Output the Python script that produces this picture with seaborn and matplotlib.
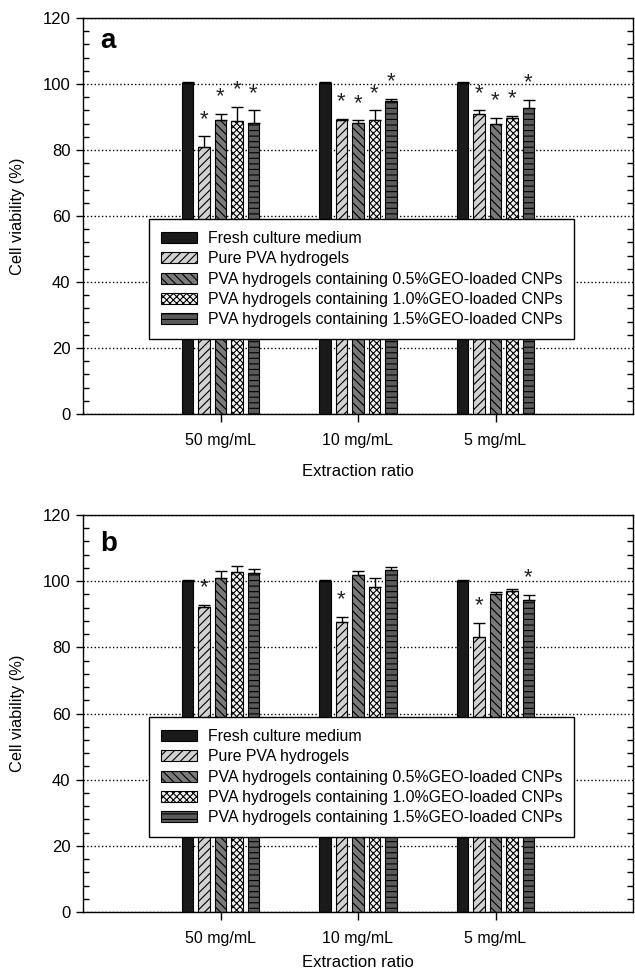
import numpy as np
import pandas as pd
import matplotlib
matplotlib.use("Agg")
import matplotlib.pyplot as plt
import seaborn as sns
from matplotlib.patches import Patch
from matplotlib.ticker import MultipleLocator
from matplotlib.container import BarContainer

categories = ["50 mg/mL", "10 mg/mL", "5 mg/mL"]
groups = ["Fresh culture medium", "Pure PVA hydrogels",
          "PVA hydrogels containing 0.5%GEO-loaded CNPs",
          "PVA hydrogels containing 1.0%GEO-loaded CNPs",
          "PVA hydrogels containing 1.5%GEO-loaded CNPs"]

# Panel a
a_fresh = [100.2, 100.2, 100.2]
a_pure = [80.9, 89.0, 90.8]
a_05 = [89.0, 88.3, 88.0]
a_10 = [88.7, 89.0, 89.6]
a_15 = [88.3, 94.8, 92.6]
a_fresh_err = [0.3, 0.3, 0.3]
a_pure_err = [3.2, 0.5, 1.2]
a_05_err = [2.0, 0.7, 1.7]
a_10_err = [4.3, 3.0, 0.8]
a_15_err = [3.7, 0.7, 2.5]
a_stars = [[0, 0, 0], [1, 1, 1], [1, 1, 1], [1, 1, 1], [1, 1, 1]]

# Panel b
b_fresh = [100.2, 100.2, 100.2]
b_pure = [92.1, 87.8, 83.0]
b_05 = [101.0, 102.0, 96.2]
b_10 = [102.9, 98.2, 97.0]
b_15 = [102.6, 103.3, 94.2]
b_fresh_err = [0.3, 0.3, 0.3]
b_pure_err = [0.7, 1.3, 4.3]
b_05_err = [2.0, 1.1, 0.6]
b_10_err = [1.7, 2.9, 0.5]
b_15_err = [1.2, 1.0, 1.6]
b_stars = [[0, 0, 0], [1, 1, 1], [0, 0, 0], [0, 0, 0], [0, 0, 1]]

y_ticks = [0, 20, 40, 60, 80, 100, 120]

fills = ["#1a1a1a", "#d2d2d2", "#7a7a7a", "#f2f2f2", "#5a5a5a"]
hatches = [None, "////", "\\\\\\\\", "xxxxx", "---"]

sns.set_style("ticks")
plt.rcParams["font.family"] = ["Liberation Sans", "DejaVu Sans"]
plt.rcParams["hatch.linewidth"] = 0.8
for k in ["text.color", "axes.labelcolor", "xtick.color", "ytick.color"]:
    plt.rcParams[k] = "black"

fig = plt.figure(figsize=(6.35, 9.75), dpi=100)
ax_a = fig.add_axes([83 / 635, 1 - 414 / 975, 550 / 635, 396 / 975])
ax_b = fig.add_axes([83 / 635, 1 - 912 / 975, 550 / 635, 397 / 975])


def draw(ax, vals, errs, stars, label, legend_top, legend_left, xlabelpad):
    rows = []
    for g, v in zip(groups, vals):
        for c, val in zip(categories, v):
            rows.append({"category": c, "group": g, "value": val})
    df = pd.DataFrame(rows)
    sns.barplot(data=df, x="category", y="value", hue="group",
                order=categories, hue_order=groups, errorbar=None,
                width=0.6, gap=0.3, palette=fills, saturation=1,
                edgecolor="black", linewidth=0.8, legend=False, ax=ax)
    bar_conts = [c for c in ax.containers if isinstance(c, BarContainer)]
    for i, cont in enumerate(bar_conts):
        for j, p in enumerate(cont.patches):
            if hatches[i]:
                p.set_hatch(hatches[i])
            x = p.get_x() + p.get_width() / 2
            v = vals[i][j]
            e = errs[i][j]
            ax.errorbar([x], [v], yerr=[[0], [e]], fmt="none", ecolor="black",
                        elinewidth=1, capsize=4.3, capthick=1, zorder=3)
            if stars[i][j]:
                ax.text(x, v + e + 2.0, "*", ha="center", va="bottom",
                        fontsize=16, color="#222222")
    ax.set_xlim(-1, 3)
    ax.set_ylim(0, 120)
    ax.set_yticks(y_ticks)
    ax.yaxis.set_minor_locator(MultipleLocator(4))
    ax.set_axisbelow(True)
    ax.yaxis.grid(True, which="major", linestyle=":", color="black", linewidth=1)
    for s in ax.spines.values():
        s.set_linewidth(1.0)
        s.set_color("black")
    ax.tick_params(axis="y", which="major", direction="out", length=5,
                   width=1, left=True, right=False, labelsize=12, pad=4)
    ax.tick_params(axis="y", which="minor", direction="in", length=4,
                   width=1, left=True, right=True)
    ax.tick_params(axis="x", which="major", direction="out", length=6,
                   width=1, labelsize=11.5, pad=8)
    ax.set_ylabel("Cell viability (%)", fontsize=11.8)
    ax.yaxis.set_label_coords(-0.105, 0.5)
    ax.set_xlabel("Extraction ratio", fontsize=12, labelpad=xlabelpad)
    ax.text(0.031, label[1], label[0], transform=ax.transAxes,
            fontsize=20, fontweight="bold", va="baseline", ha="left")
    handles = [Patch(facecolor=fills[i], edgecolor="black", hatch=hatches[i],
                     linewidth=0.8) for i in range(len(groups))]
    leg = ax.legend(handles, groups, loc="upper left",
                    bbox_to_anchor=(legend_left, legend_top),
                    borderaxespad=0, fontsize=11.4, frameon=True, fancybox=False,
                    edgecolor="black", framealpha=1, handlelength=2.3,
                    handleheight=0.7, handletextpad=0.65, labelspacing=0.34,
                    borderpad=0.75)
    leg.get_frame().set_linewidth(1.0)


draw(ax_a, [a_fresh, a_pure, a_05, a_10, a_15],
     [a_fresh_err, a_pure_err, a_05_err, a_10_err, a_15_err], a_stars,
     ("a", 0.9235), (414 - 219) / 396, (149 - 83) / 550, 11)
draw(ax_b, [b_fresh, b_pure, b_05, b_10, b_15],
     [b_fresh_err, b_pure_err, b_05_err, b_10_err, b_15_err], b_stars,
     ("b", 0.909), (912 - 717) / 397, (149 - 83) / 550, 6)

fig.savefig("out.png", dpi=100)
